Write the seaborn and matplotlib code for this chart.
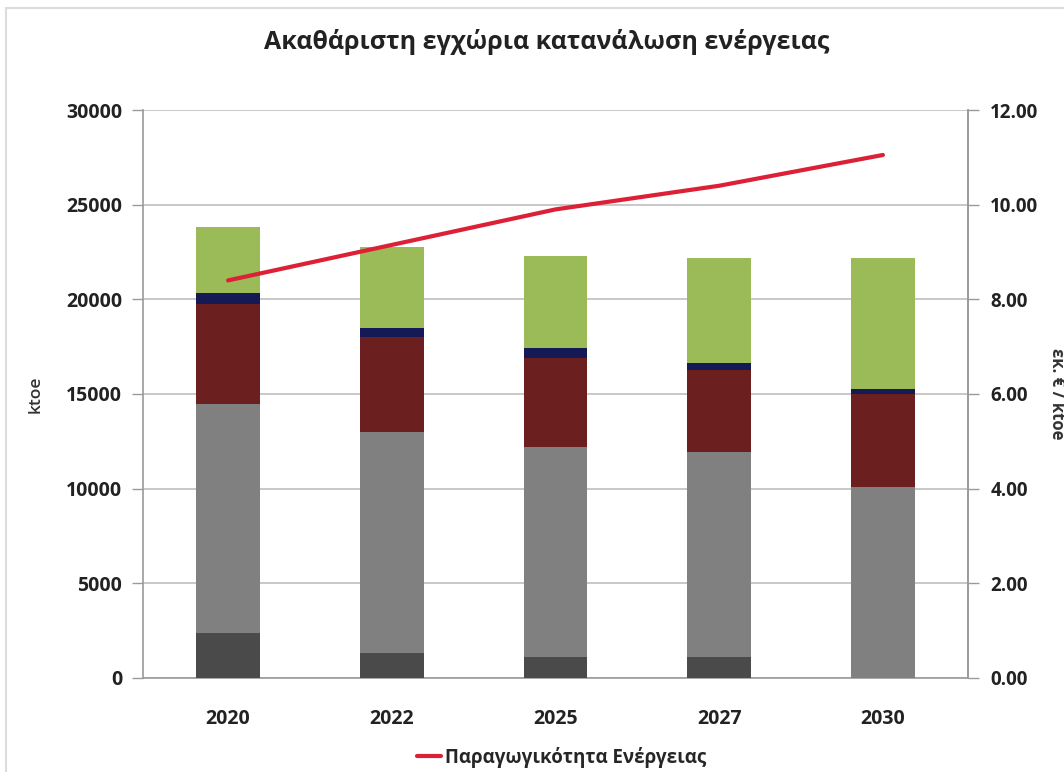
import numpy as np
import pandas as pd
import matplotlib
matplotlib.use("Agg")
import matplotlib.pyplot as plt
from matplotlib.lines import Line2D
from matplotlib.patches import Rectangle
import seaborn as sns

# Gross inland energy consumption (ktoe) by fuel, and energy productivity
years = ["2020", "2022", "2025", "2027", "2030"]
solid_fuels = [2380, 1320, 1110, 1110, 0]
oil = [12090, 11680, 11090, 10830, 10090]
natural_gas = [5290, 5010, 4700, 4330, 4910]
electricity = [580, 480, 520, 370, 270]
renewables = [3460, 4280, 4880, 5560, 6890]
productivity = [8.40, 9.15, 9.90, 10.40, 11.05]

left_ticks = [0, 5000, 10000, 15000, 20000, 25000, 30000]
right_ticks = [0, 2, 4, 6, 8, 10, 12]

layers = [
    ("solid", solid_fuels, "#4a4a4a"),
    ("oil", oil, "#808080"),
    ("gas", natural_gas, "#6b1f1f"),
    ("elec", electricity, "#151a55"),
    ("res", renewables, "#9bbb59"),
]

sns.set_theme(style="white")
plt.rcParams["font.family"] = ["Open Sans", "DejaVu Sans"]

fig = plt.figure(figsize=(10.64, 7.72), dpi=100)
ax = fig.add_axes([0.1344, 0.1218, 0.7754, 0.7357])

# Stacked bars: draw cumulative totals from the top layer down
cum = np.cumsum([np.array(v, dtype=float) for _, v, _ in layers], axis=0)
df = pd.DataFrame({"year": years})
for i in range(len(layers) - 1, -1, -1):
    df["total"] = cum[i]
    sns.barplot(data=df, x="year", y="total", color=layers[i][2],
                saturation=1, width=0.39, ax=ax, zorder=3,
                linewidth=0, edgecolor="none")

ax.set_ylim(0, 30000)
ax.set_xlim(-0.52, 4.52)
ax.set_yticks(left_ticks)
ax.set_yticklabels([str(t) for t in left_ticks])
ax.set_xlabel("")
ax.set_ylabel("ktoe", fontsize=12.5, fontweight="semibold", color="#333333",
              labelpad=16)
ax.grid(axis="y", color="#c4c4c4", linewidth=1.3, zorder=0)
ax.set_axisbelow(True)
for side in ["left", "bottom", "right"]:
    ax.spines[side].set_color("#9a9a9a")
    ax.spines[side].set_linewidth(1.2)
ax.spines["top"].set_visible(False)
ax.tick_params(axis="y", which="major", direction="out", length=8, width=1,
               color="#9a9a9a", labelsize=14, labelcolor="#222222", pad=7)
ax.tick_params(axis="x", which="major", length=0, labelsize=14,
               labelcolor="#222222", pad=22)
ax.set_xticks([0.5, 1.5, 2.5, 3.5], minor=True)
ax.tick_params(axis="x", which="minor", direction="out", length=6, width=1,
               color="#9a9a9a")
for lab in ax.get_xticklabels() + ax.get_yticklabels():
    lab.set_fontweight("bold")

# Energy productivity on the secondary axis
ax2 = ax.twinx()
sns.lineplot(x=np.arange(len(years)), y=productivity, color="#dc2035",
             linewidth=3, ax=ax2, zorder=5)
ax2.set_ylim(0, 12)
ax2.set_yticks(right_ticks)
ax2.set_yticklabels([f"{t:.2f}" for t in right_ticks])
for side in ["left", "top", "bottom"]:
    ax2.spines[side].set_visible(False)
ax2.spines["right"].set_color("#9a9a9a")
ax2.spines["right"].set_linewidth(1.2)
ax2.tick_params(axis="y", direction="out", length=8, width=1, color="#9a9a9a",
                labelsize=13.5, labelcolor="#222222", pad=8)
for lab in ax2.get_yticklabels():
    lab.set_fontweight("bold")

fig.text(0.993, 0.49, "εκ. € / ktoe", rotation=270, ha="center", va="center",
         fontsize=12, fontweight="bold", color="#333333")

fig.suptitle("Ακαθάριστη εγχώρια κατανάλωση ενέργειας", x=0.514, y=0.962,
             fontsize=18, fontweight="bold", color="#222222")

handle = Line2D([], [], color="#dc2035", linewidth=3)
fig.legend([handle], ["Παραγωγικότητα Ενέργειας"], loc="center",
           bbox_to_anchor=(0.528, 0.019), frameon=False, handlelength=1.3,
           handletextpad=0.2, prop={"size": 13.5, "weight": "bold"})

# Faint outer frame of the chart area
fig.patches.append(Rectangle((0.006, -0.05), 1.2, 1.04, transform=fig.transFigure,
                             fill=False, edgecolor="#dcdcdc", linewidth=1.5))

fig.savefig("out.png", dpi=100)
